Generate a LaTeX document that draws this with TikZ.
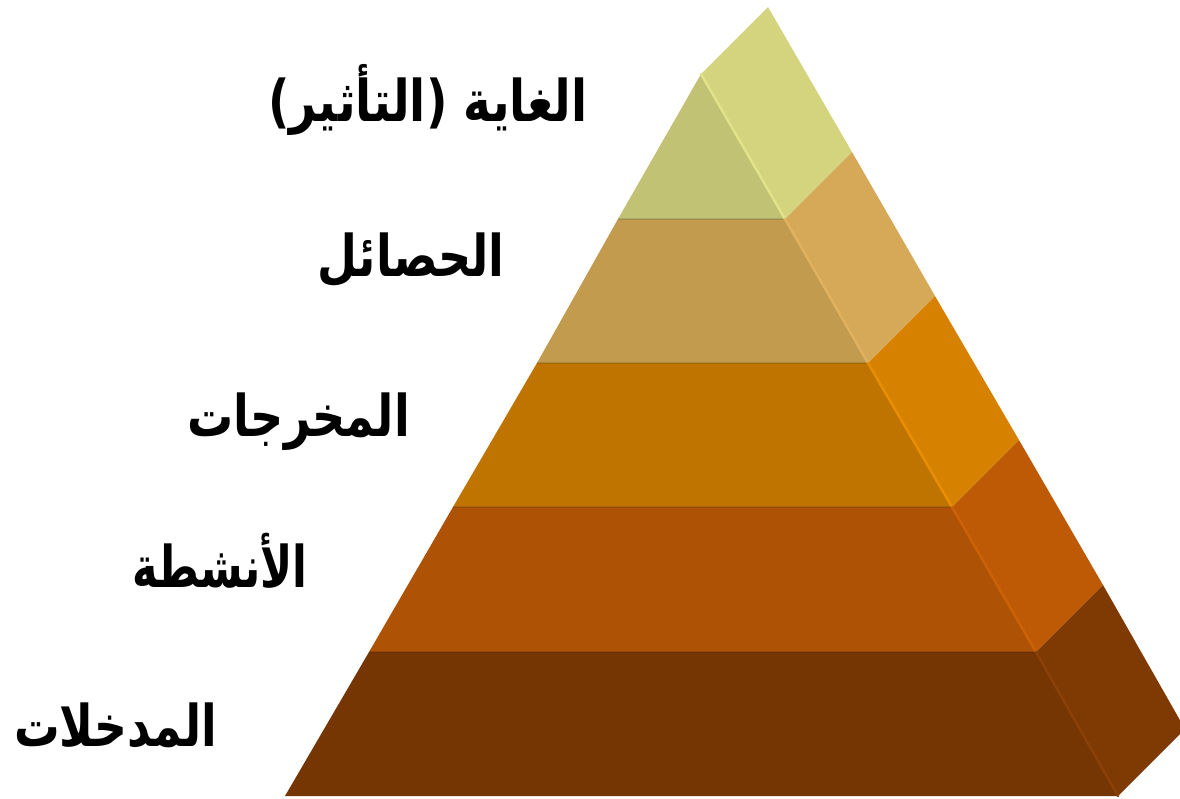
\documentclass[tikz,border=0pt]{standalone}
\usepackage{fontspec}
\TeXXeTstate=1
\newfontfamily\arabicfont[Script=Arabic]{DejaVu Sans}
\definecolor{f1}{HTML}{C1C274}
\definecolor{f2}{HTML}{C29B4F}
\definecolor{f3}{HTML}{C07400}
\definecolor{f4}{HTML}{AE5206}
\definecolor{f5}{HTML}{763604}
\definecolor{s1}{HTML}{D5D47E}
\definecolor{s2}{HTML}{D5A957}
\definecolor{s3}{HTML}{D68200}
\definecolor{s4}{HTML}{BE5A06}
\definecolor{s5}{HTML}{7F3A04}
\definecolor{h1}{HTML}{E2E28A}
\definecolor{h2}{HTML}{E0B260}
\definecolor{h3}{HTML}{E88E00}
\definecolor{h4}{HTML}{CC6208}
\definecolor{h5}{HTML}{8A4006}
\newcommand{\arlbl}[2][1]{\scalebox{#1}[1.25]{\beginR #2\endR}}
\tikzset{
  lbl/.style={anchor=east, inner sep=0pt, font=\arabicfont\bfseries\fontsize{46}{50}\selectfont},
  hl/.style={line width=2.5pt, line cap=round},
  topband/.style={line width=2pt, black, opacity=0.12}
}
\begin{document}
\begin{tikzpicture}[x=1pt,y=-1pt]
\useasboundingbox (0,0) rectangle (1180,798);
\clip (0,0) rectangle (1180,798);
% front points
\coordinate (A) at (701,74);
\coordinate (L1) at (618,219); \coordinate (R1) at (785,219);
\coordinate (L2) at (537,363); \coordinate (R2) at (868,363);
\coordinate (L3) at (453,507); \coordinate (R3) at (952,507);
\coordinate (L4) at (369,652); \coordinate (R4) at (1036,652);
\coordinate (L5) at (285,796); \coordinate (R5) at (1118,796);
% back points
\coordinate (B) at (768,7);
\coordinate (Q1) at (852,152);
\coordinate (Q2) at (935,296);
\coordinate (Q3) at (1019,440);
\coordinate (Q4) at (1103,585);
\coordinate (Q5) at (1185,729);
% side faces
\fill[s1] (A) -- (R1) -- (Q1) -- (B) -- cycle;
\fill[s2] (R1) -- (R2) -- (Q2) -- (Q1) -- cycle;
\fill[s3] (R2) -- (R3) -- (Q3) -- (Q2) -- cycle;
\fill[s4] (R3) -- (R4) -- (Q4) -- (Q3) -- cycle;
\fill[s5] (R4) -- (R5) -- (Q5) -- (Q4) -- cycle;
% front faces
\fill[f1] (A) -- (R1) -- (L1) -- cycle;
\fill[f2] (L1) -- (R1) -- (R2) -- (L2) -- cycle;
\fill[f3] (L2) -- (R2) -- (R3) -- (L3) -- cycle;
\fill[f4] (L3) -- (R3) -- (R4) -- (L4) -- cycle;
\fill[f5] (L4) -- (R4) -- (R5) -- (L5) -- cycle;
% top bands
\draw[topband] (L1) -- (R1);
\draw[topband] (L2) -- (R2);
\draw[topband] (L3) -- (R3);
\draw[topband] (L4) -- (R4);
% highlights along front-right edge
\draw[hl, h1] (A) -- (R1);
\draw[hl, h2] (R1) -- (R2);
\draw[hl, h3] (R2) -- (R3);
\draw[hl, h4] (R3) -- (R4);
\draw[hl, h5] (R4) -- (R5);
% labels
\node[lbl] (t1) at (588,100) {\arlbl[1.02]{الغاية (التأثير)}};
\node[lbl] (t2) at (505,260) {\arlbl{الحصائل}};
\node[lbl] (t3) at (410,422) {\arlbl{المخرجات}};
\node[lbl] (t4) at (308,561) {\arlbl[0.94]{الأنشطة}};
\node[lbl] (t5) at (217,725) {\arlbl[0.99]{المدخلات}};
\end{tikzpicture}
\end{document}
